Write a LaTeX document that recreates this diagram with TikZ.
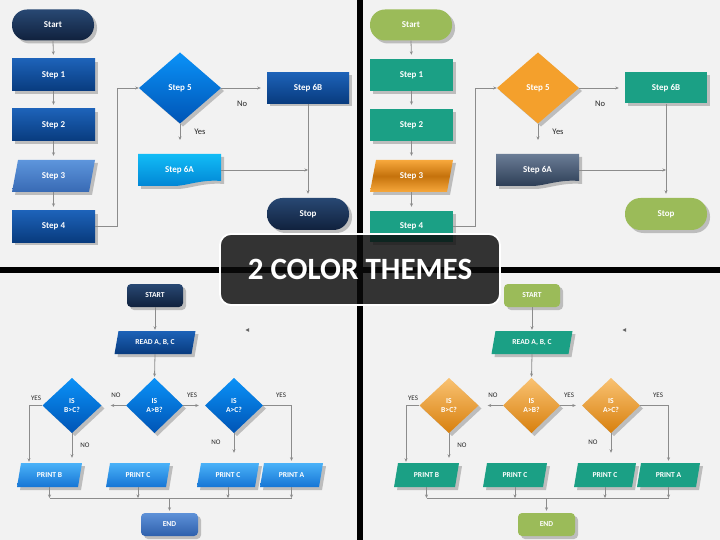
\documentclass[tikz,border=0pt]{standalone}
\usepackage{fontspec}
\setmainfont{Carlito}
\usetikzlibrary{arrows.meta,calc}

\definecolor{bgc}{HTML}{F2F2F2}
\definecolor{linec}{HTML}{8C8C8C}
\definecolor{shadowc}{HTML}{BDBDBD}
\definecolor{navyT}{HTML}{284873}
\definecolor{navyB}{HTML}{10213D}
\definecolor{blueT}{HTML}{1D62B8}
\definecolor{blueB}{HTML}{083B7E}
\definecolor{lblueT}{HTML}{5D95DC}
\definecolor{lblueB}{HTML}{386AB4}
\definecolor{dblueT}{HTML}{0A92F8}
\definecolor{dblueB}{HTML}{0054B5}
\definecolor{cyanT}{HTML}{12BCF6}
\definecolor{cyanB}{HTML}{0084D4}
\definecolor{printT}{HTML}{4AB2F8}
\definecolor{printB}{HTML}{1675D5}
\definecolor{endT}{HTML}{5E91D8}
\definecolor{endB}{HTML}{2E60AC}
\definecolor{greenc}{HTML}{9BBB59}
\definecolor{tealc}{HTML}{1BA085}
\definecolor{orc}{HTML}{F4A02C}
\definecolor{orT}{HTML}{F7A83C}
\definecolor{orM}{HTML}{C5720C}
\definecolor{slateT}{HTML}{6B7D96}
\definecolor{slateB}{HTML}{2B3C54}
\definecolor{odT}{HTML}{F9C272}
\definecolor{odB}{HTML}{D8800E}

\def\fcrect{(-\hw,-\hh) rectangle (\hw,\hh)}
\def\fcterm{[rounded corners=\hh-0.5] (-\hw,-\hh) rectangle (\hw,\hh)}
\def\fcrrect{[rounded corners=4] (-\hw,-\hh) rectangle (\hw,\hh)}
\def\fcpara{(-\hw+6,-\hh) -- (\hw,-\hh) -- (\hw-6,\hh) -- (-\hw,\hh) -- cycle}
\def\fcparb{(-\hw+4,-\hh) -- (\hw,-\hh) -- (\hw-4,\hh) -- (-\hw,\hh) -- cycle}
\def\fcdia{(0,-\hh) -- (\hw,0) -- (0,\hh) -- (-\hw,0) -- cycle}
\def\fcdoc{(-\hw,-\hh) -- (\hw,-\hh) -- (\hw,\hh-5) .. controls (\hw*0.5,\hh-7) and (\hw*0.1,\hh+1) .. (-\hw*0.2,\hh) -- (-\hw,\hh) -- cycle}

% #1 name #2 x #3 y #4 w #5 h #6 path #7 fill style #8 text style #9 text
\newcommand{\fcitem}[9]{%
  \begin{scope}[shift={(#2,#3)}]
    \def\hw{#4/2}\def\hh{#5/2}%
    \path[fill=shadowc, shift={(3,3)}] #6;
    \path[#7] #6;
  \end{scope}
  \node[#8, minimum width=#4, minimum height=#5] (#1) at (#2,#3) {#9};
}

\tikzset{
  txt/.style={text=white, font=\bfseries\fontsize{9}{10}\selectfont, inner sep=0pt, align=center},
  btxt/.style={text=white, font=\bfseries\fontsize{7.6}{9.3}\selectfont, inner sep=0pt, align=center},
  lab/.style={font=\fontsize{8.5}{10}\selectfont, text=black!85, inner sep=0pt},
  blab/.style={font=\fontsize{7}{8}\selectfont, text=black!85, inner sep=0pt},
  arr/.style={draw=linec, line width=0.8pt, -{Stealth[length=3.5pt,width=3pt]}},
  conn/.style={draw=linec, line width=0.8pt},
  banner/.style={fill={rgb,255:red,10;green,10;blue,10}, fill opacity=0.82, text opacity=1,
    draw=white, line width=1.8pt, rounded corners=11pt, minimum width=280, minimum height=71,
    text=white, font=\bfseries\fontsize{31}{36}\selectfont, inner sep=0pt}
}

\newcommand{\topchart}[2]{%
  \begin{scope}[xshift=#2]
    \fcitem{#1st}{53}{25}{82}{31}{\fcterm}{termfill}{txt}{Start}
    \fcitem{#1s1}{53.5}{75}{83}{32}{\fcrect}{rectfill}{txt}{Step 1}
    \fcitem{#1s2}{53.5}{125}{83}{32}{\fcrect}{rectfill}{txt}{Step 2}
    \fcitem{#1s3}{53.5}{176}{83}{32}{\fcpara}{parafill}{txt}{Step 3}
    \fcitem{#1s4}{53.5}{226.5}{83}{31}{\fcrect}{rectfill}{txt}{Step 4}
    \fcitem{#1s5}{180}{88}{82}{71}{\fcdia}{diafill}{txt}{Step 5}
    \fcitem{#1s6b}{308}{88}{82}{31}{\fcrect}{rectfill}{txt}{Step 6B}
    \fcitem{#1s6a}{179.5}{170}{83}{32}{\fcdoc}{docfill}{txt}{Step 6A}
    \fcitem{#1sp}{308}{214}{82}{32}{\fcterm}{termfill}{txt}{Stop}
    \coordinate (#1ye) at (180,140);
    \draw[arr, shorten >=4pt] (#1st.south) -- (#1s1.north);
    \draw[arr, shorten >=4pt] (#1s1.south) -- (#1s2.north);
    \draw[arr, shorten >=4pt] (#1s2.south) -- (#1s3.north);
    \draw[arr, shorten >=4pt] (#1s3.south) -- (#1s4.north);
    \draw[arr] (#1s4.east) -- ++(22,0) |- (#1s5.west);
    \draw[arr, shorten >=6pt] (#1s5.east) -- (#1s6b.west);
    \draw[arr] (#1s5.south) -- (#1ye);
    \draw[arr, shorten >=4pt] (#1s6b.south) -- (#1sp.north);
    \draw[arr] (#1s6a.east) -- (#1s6a.east -| #1s6b.south);
    \node[lab] (#1no) at (242,104) {No};
    \node[lab] (#1yes) at (200,132) {Yes};
  \end{scope}}

\newcommand{\botchart}[2]{%
  \begin{scope}[xshift=#2]
    \fcitem{#1st}{155}{295.5}{56}{23}{\fcrrect}{btermfill}{btxt}{START}
    \fcitem{#1rd}{155}{342.5}{81}{23}{\fcparb}{breadfill}{btxt}{READ A, B, C}
    \fcitem{#1d1}{72}{405.5}{59}{55}{\fcdia}{bdiafill}{btxt}{IS\\B>C?}
    \fcitem{#1d2}{154.5}{405.5}{57}{55}{\fcdia}{bdiafill}{btxt}{IS\\A>B?}
    \fcitem{#1d3}{234}{405.5}{58}{55}{\fcdia}{bdiafill}{btxt}{IS\\A>C?}
    \fcitem{#1pb}{49.5}{475}{65}{24}{\fcparb}{bprintfill}{btxt}{PRINT B}
    \fcitem{#1pc}{138}{475}{64}{24}{\fcparb}{bprintfill}{btxt}{PRINT C}
    \fcitem{#1pd}{228}{475}{62}{24}{\fcparb}{bprintfill}{btxt}{PRINT C}
    \fcitem{#1pa}{291.5}{475}{63}{24}{\fcparb}{bprintfill}{btxt}{PRINT A}
    \fcitem{#1en}{169.5}{524.5}{57}{23}{\fcrrect}{bendfill}{btxt}{END}
    \coordinate (#1bl) at (47,498);
    \coordinate (#1bm) at (169.5,498);
    \draw[arr, shorten >=1pt] (#1st.south) -- (#1rd.north);
    \draw[arr, shorten >=1pt] (#1rd.south) -- (#1d2.north);
    \draw[arr] (#1d2.west) -- ($(#1d1.east)+(9,0)$);
    \draw[arr] (#1d2.east) -- ($(#1d3.west)+(-6,0)$);
    \draw[arr] (#1d1.west) -| ($(#1pb.north)+(-20.5,-1)$);
    \draw[arr] (#1d1.south) -- ($(#1d1.south |- #1pb.north)+(0,-5)$);
    \draw[arr] (#1d3.south) -- ($(#1d3.south |- #1pd.north)+(0,-10)$);
    \draw[arr] (#1d3.east) -| ($(#1pa.north)+(0,-2)$);
    \draw[conn] (#1pb.south |- #1bl) -- (#1pa.south |- #1bl);
    \foreach \p in {pb,pc,pd,pa} {\draw[arr] (#1\p.south) -- (#1\p.south |- #1bl);}
    \draw[arr, shorten >=2pt] (#1bm) -- (#1en.north);
    \node[blab] (#1l1) at (36,398) {YES};
    \node[blab] (#1l2) at (116,395) {NO};
    \node[blab] (#1l3) at (192,395) {YES};
    \node[blab] (#1l4) at (85,445) {NO};
    \node[blab] (#1l5) at (216,442) {NO};
    \node[blab] (#1l6) at (281,395) {YES};
    \fill[black!60] (245.5,330) -- (249,328.2) -- (249,331.8) -- cycle;
  \end{scope}}

\begin{document}
\begin{tikzpicture}[x=1pt,y=-1pt]
  \useasboundingbox (0,0) rectangle (720,540);
  \fill[bgc] (0,0) rectangle (720,540);
  \fill[black] (356.8,0) rectangle (363.2,540);
  \fill[black] (0,266.8) rectangle (720,273.2);

  \begin{scope}
    \tikzset{termfill/.style={top color=navyT, bottom color=navyB},
             rectfill/.style={top color=blueT, bottom color=blueB},
             parafill/.style={top color=lblueT, bottom color=lblueB},
             diafill/.style={top color=dblueT, bottom color=dblueB},
             docfill/.style={top color=cyanT, bottom color=cyanB}}
    \topchart{a}{0}
  \end{scope}
  \begin{scope}
    \tikzset{termfill/.style={fill=greenc},
             rectfill/.style={fill=tealc},
             parafill/.style={top color=orT, bottom color=orT, middle color=orM},
             diafill/.style={fill=orc},
             docfill/.style={top color=slateT, bottom color=slateB}}
    \topchart{b}{358}
  \end{scope}
  \begin{scope}
    \tikzset{btermfill/.style={top color=navyT, bottom color=navyB},
             breadfill/.style={top color=blueT, bottom color=blueB},
             bdiafill/.style={top color=dblueT, bottom color=dblueB},
             bprintfill/.style={top color=printT, bottom color=printB},
             bendfill/.style={top color=endT, bottom color=endB}}
    \botchart{c}{0}
  \end{scope}
  \begin{scope}
    \tikzset{btermfill/.style={fill=greenc},
             breadfill/.style={fill=tealc},
             bdiafill/.style={top color=odT, bottom color=odB},
             bprintfill/.style={fill=tealc},
             bendfill/.style={fill=greenc}}
    \botchart{d}{377}
  \end{scope}

  \node[banner] (ttl) at (360,269.5) {2 COLOR THEMES};
\end{tikzpicture}
\end{document}
